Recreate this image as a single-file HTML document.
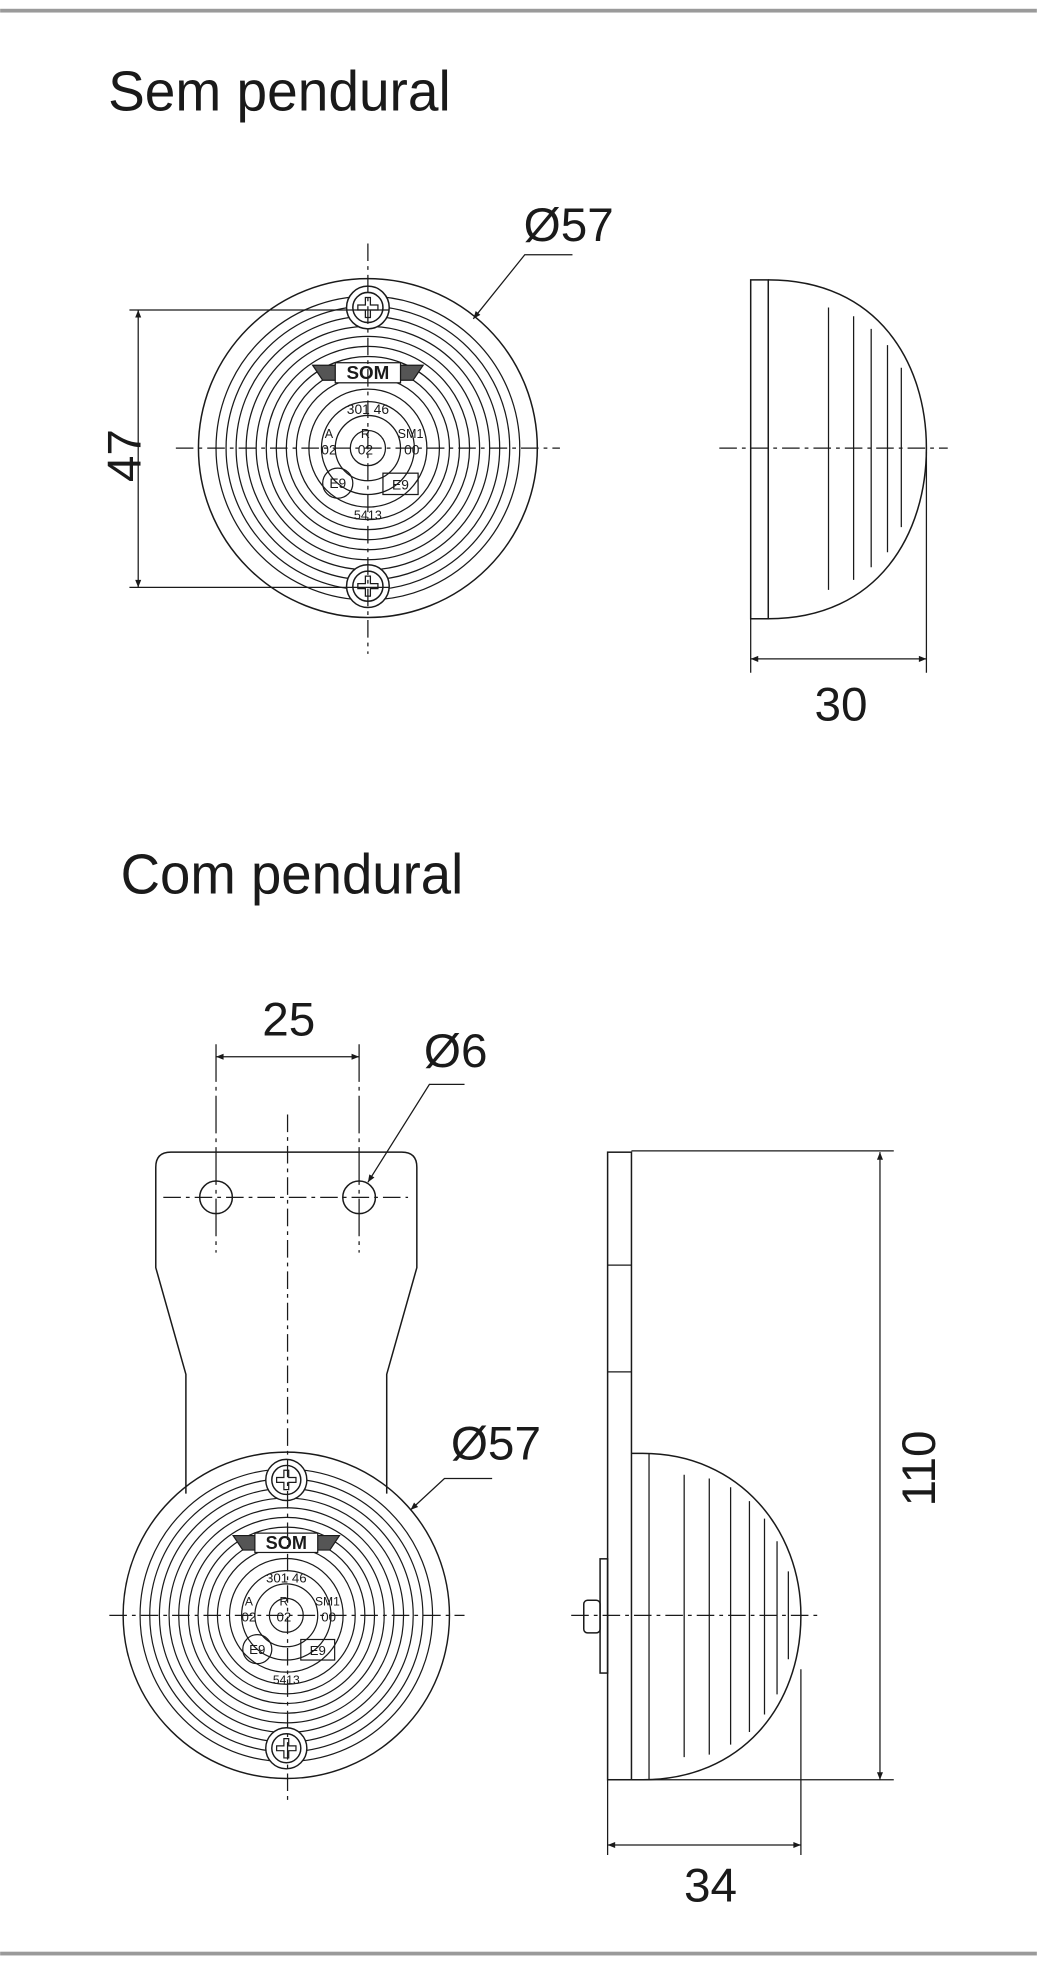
<!DOCTYPE html>
<html><head><meta charset="utf-8"><style>
html,body{margin:0;padding:0;background:#fff;}
svg{display:block;}
text{font-family:"Liberation Sans",sans-serif;fill:#1a1a1a;}
</style></head><body>
<svg width="1037" height="1968" viewBox="0 0 826 1568" xmlns="http://www.w3.org/2000/svg">
<defs>
<marker id="a" viewBox="0 0 10 10" refX="10" refY="5" markerWidth="10" markerHeight="6" orient="auto-start-reverse" markerUnits="userSpaceOnUse"><path d="M0,1 L10,5 L0,9 Z" fill="#1a1a1a"/></marker>
<g id="lamp">
<circle r="135" fill="none" stroke="#1a1a1a" stroke-width="1.2"/>
<g fill="none" stroke="#1a1a1a" stroke-width="1">
<circle r="121"/><circle r="113"/><circle r="105"/><circle r="97"/><circle r="89"/><circle r="81"/><circle r="73"/><circle r="65"/><circle r="57"/><circle r="47"/><circle r="37"/><circle r="26"/><circle r="14"/>
</g>
<g fill="#fff" stroke="#1a1a1a" stroke-width="1.2">
<circle cx="0" cy="-112" r="17"/><circle cx="0" cy="-112" r="12"/>
<circle cx="0" cy="110" r="17"/><circle cx="0" cy="110" r="12"/>
</g>
<path d="M-2,-120h4v6h6v4h-6v6h-4v-6h-6v-4h6z M-2,102h4v6h6v4h-6v6h-4v-6h-6v-4h6z" fill="#fff" stroke="#1a1a1a" stroke-width="1"/>
<path d="M-44,-66 L44,-66 L36,-54 L-36,-54 Z" fill="#555" stroke="#1a1a1a"/>
<rect x="-26" y="-68" width="52" height="16" fill="#fff" stroke="#1a1a1a"/>
<text x="0" y="-55" font-size="15" text-anchor="middle" font-weight="bold">SOM</text>
<text x="0" y="-27" font-size="11" text-anchor="middle">301  46</text>
<text x="-31" y="-8" font-size="10" text-anchor="middle">A</text>
<text x="-2" y="-8" font-size="10" text-anchor="middle">R</text>
<text x="34" y="-8" font-size="10" text-anchor="middle">SM1</text>
<text x="-31" y="5" font-size="11" text-anchor="middle">02</text>
<text x="-2" y="5" font-size="11" text-anchor="middle">02</text>
<text x="35" y="5" font-size="11" text-anchor="middle">00</text>
<circle cx="-24" cy="28" r="12" fill="none" stroke="#1a1a1a"/>
<text x="-24" y="32" font-size="11" text-anchor="middle">E9</text>
<rect x="12" y="20" width="28" height="17" fill="none" stroke="#1a1a1a"/>
<text x="26" y="33" font-size="11" text-anchor="middle">E9</text>
<text x="0" y="57" font-size="10" text-anchor="middle">5413</text>
</g>
</defs>
<rect x="0" y="7" width="826" height="3" fill="#9a9a9a"/>
<rect x="0" y="1555" width="826" height="3" fill="#9a9a9a"/>

<text x="86" y="88" font-size="45" textLength="273" lengthAdjust="spacingAndGlyphs">Sem pendural</text>
<text x="96" y="712" font-size="45" textLength="273" lengthAdjust="spacingAndGlyphs">Com pendural</text>

<!-- top front -->
<use href="#lamp" x="293" y="357"/>
<g stroke="#1a1a1a" stroke-width="1" fill="none">
<path d="M140,357 H446 M293,194 V521" stroke-dasharray="14,4,3,4"/>
<path d="M103,247 H310 M103,468 H310"/>
<path d="M110,247 V468" marker-start="url(#a)" marker-end="url(#a)"/>
<path d="M456,203 H418 L377,254" marker-end="url(#a)"/>
</g>
<text x="100" y="363" font-size="38" text-anchor="middle" transform="rotate(-90 100 363)" dy="12">47</text>
<text x="453" y="192" font-size="38" text-anchor="middle">Ø57</text>

<!-- top side -->
<g stroke="#1a1a1a" stroke-width="1.2" fill="none">
<rect x="598" y="223" width="14" height="270"/>
<path d="M612,223 C700,223 738,290 738,357 C738,425 700,493 612,493"/>
<path d="M660,245 V470 M680,252 V462 M694,262 V452 M707,275 V440 M718,293 V420" stroke-width="1"/>
<path d="M573,357 H755" stroke-dasharray="14,4,3,4" stroke-width="1"/>
<path d="M598,493 V536 M738,360 V536" stroke-width="1"/>
<path d="M598,525 H738" stroke-width="1" marker-start="url(#a)" marker-end="url(#a)"/>
</g>
<text x="670" y="574" font-size="38" text-anchor="middle">30</text>

<!-- bottom front -->
<g stroke="#1a1a1a" stroke-width="1.2" fill="#fff">
<path d="M148,1190 V1095 L124,1010 V930 Q124,918 136,918 H320 Q332,918 332,930 V1010 L308,1095 V1190"/>
<circle cx="172" cy="954" r="13"/><circle cx="286" cy="954" r="13"/>
</g>
<g transform="translate(228,1287) scale(0.963)"><use href="#lamp"/></g>
<g stroke="#1a1a1a" stroke-width="1" fill="none">
<path d="M130,954 H325 M229,888 V1435 M87,1287 H370" stroke-dasharray="14,4,3,4"/>
<path d="M172,832 V998 M286,832 V998" stroke-dasharray="30,4,3,4"/>
<path d="M172,842 H286" marker-start="url(#a)" marker-end="url(#a)"/>
<path d="M370,864 H342 L293,942" marker-end="url(#a)"/>
<path d="M392,1178 H354 L327,1203" marker-end="url(#a)"/>
</g>
<text x="230" y="825" font-size="38" text-anchor="middle">25</text>
<text x="363" y="850" font-size="38" text-anchor="middle">Ø6</text>
<text x="395" y="1163" font-size="38" text-anchor="middle">Ø57</text>

<!-- bottom side -->
<g stroke="#1a1a1a" stroke-width="1.2" fill="none">
<rect x="484" y="918" width="19" height="500"/>
<path d="M484,1008 H503 M484,1093 H503" stroke-width="1"/>
<rect x="478" y="1242" width="6" height="91"/>
<rect x="465" y="1275" width="13" height="26" rx="3"/>
<path d="M503,1158 H512 C590,1158 638,1220 638,1287 C638,1360 590,1418 512,1418 H503"/>
<path d="M517,1158 V1418" stroke-width="1"/>
<path d="M545,1175 V1400 M565,1178 V1398 M582,1185 V1390 M597,1196 V1380 M609,1210 V1366 M619,1228 V1350 M628,1252 V1322" stroke-width="1"/>
<path d="M455,1287 H652" stroke-dasharray="14,4,3,4" stroke-width="1"/>
<path d="M503,917 H712 M512,1418 H712" stroke-width="1"/>
<path d="M701,918 V1418" stroke-width="1" marker-start="url(#a)" marker-end="url(#a)"/>
<path d="M484,1418 V1478 M638,1330 V1478" stroke-width="1"/>
<path d="M484,1470 H638" stroke-width="1" marker-start="url(#a)" marker-end="url(#a)"/>
</g>
<text x="733" y="1170" font-size="38" text-anchor="middle" transform="rotate(-90 733 1170)" dy="12">110</text>
<text x="566" y="1515" font-size="38" text-anchor="middle">34</text>
</svg>
</body></html>
